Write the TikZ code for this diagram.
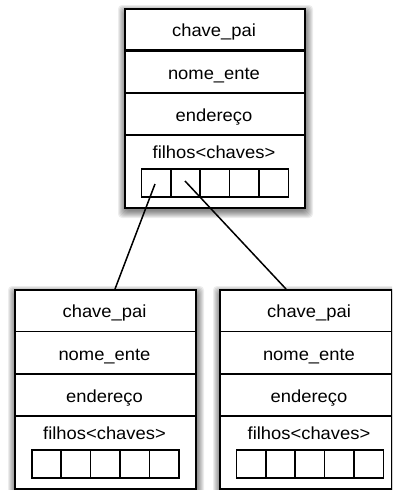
\documentclass[tikz,border=0pt]{standalone}
\usepackage{fontspec}
\setmainfont{Liberation Sans}[FakeStretch=1.05]
\tikzset{
  lbl/.style={anchor=base, inner sep=0pt, font=\fontsize{17.5}{19}\selectfont},
  outer/.style={draw=black, line width=2pt},
  divider/.style={draw=black, line width=1.6pt},
  thickdiv/.style={draw=black, line width=2.8pt},
  cell/.style={draw=black, line width=1.6pt, minimum width=29.4pt, minimum height=28pt, inner sep=0pt, anchor=north west},
  link/.style={draw=black, line width=1.5pt},
}
% #1 prefix, #2 left, #3 top, #4 right, #5 text centre x, #6 first divider style
\newcommand{\entbox}[6]{%
  \foreach \k in {0,...,7}{
    \fill[black, opacity=0.07, rounded corners=4pt]
      ({#2-\k+1},{#3-\k+4}) rectangle ({#4+\k+2},{#3+199+\k+4});
  }
  \fill[white] (#2,#3) rectangle (#4,{#3+199});
  \draw[#6] (#2,{#3+42.5}) -- (#4,{#3+42.5});
  \draw[divider] (#2,{#3+85}) -- (#4,{#3+85});
  \draw[divider] (#2,{#3+127}) -- (#4,{#3+127});
  \node[outer, anchor=north west, minimum width={#4-#2}, minimum height=199pt, inner sep=0pt] (#1) at (#2,#3) {};
  \node[lbl] (#1-k) at (#5,{#3+28}) {chave\_pai};
  \node[lbl] (#1-n) at (#5,{#3+71}) {nome\_ente};
  \node[lbl] (#1-e) at (#5,{#3+113}) {endereço};
  \node[lbl] (#1-f) at (#5,{#3+150}) {filhos<chaves>};
  \node[cell] (#1-c1) at ({#5-73.5},{#3+160}) {};
  \node[cell] (#1-c2) at ({#5-44.1},{#3+160}) {};
  \node[cell] (#1-c3) at ({#5-14.7},{#3+160}) {};
  \node[cell] (#1-c4) at ({#5+14.7},{#3+160}) {};
  \node[cell] (#1-c5) at ({#5+44.1},{#3+160}) {};
}
\begin{document}
\begin{tikzpicture}[x=1pt, y=-1pt]
  \useasboundingbox (0,0) rectangle (392,490);
  \clip (0,0) rectangle (392,490);
  \fill[white] (0,0) rectangle (392,490);
  \entbox{top}{124}{8}{304}{214}{thickdiv}
  \entbox{left}{14}{289}{195}{104.5}{divider}
  \entbox{right}{219}{289}{391}{309}{divider}
  \coordinate (s1) at (155,184);
  \coordinate (s2) at (185,181);
  \coordinate (e1) at (115,289);
  \coordinate (e2) at (286,289);
  \draw[link] (s1) -- (e1);
  \draw[link] (s2) -- (e2);
\end{tikzpicture}
\end{document}
